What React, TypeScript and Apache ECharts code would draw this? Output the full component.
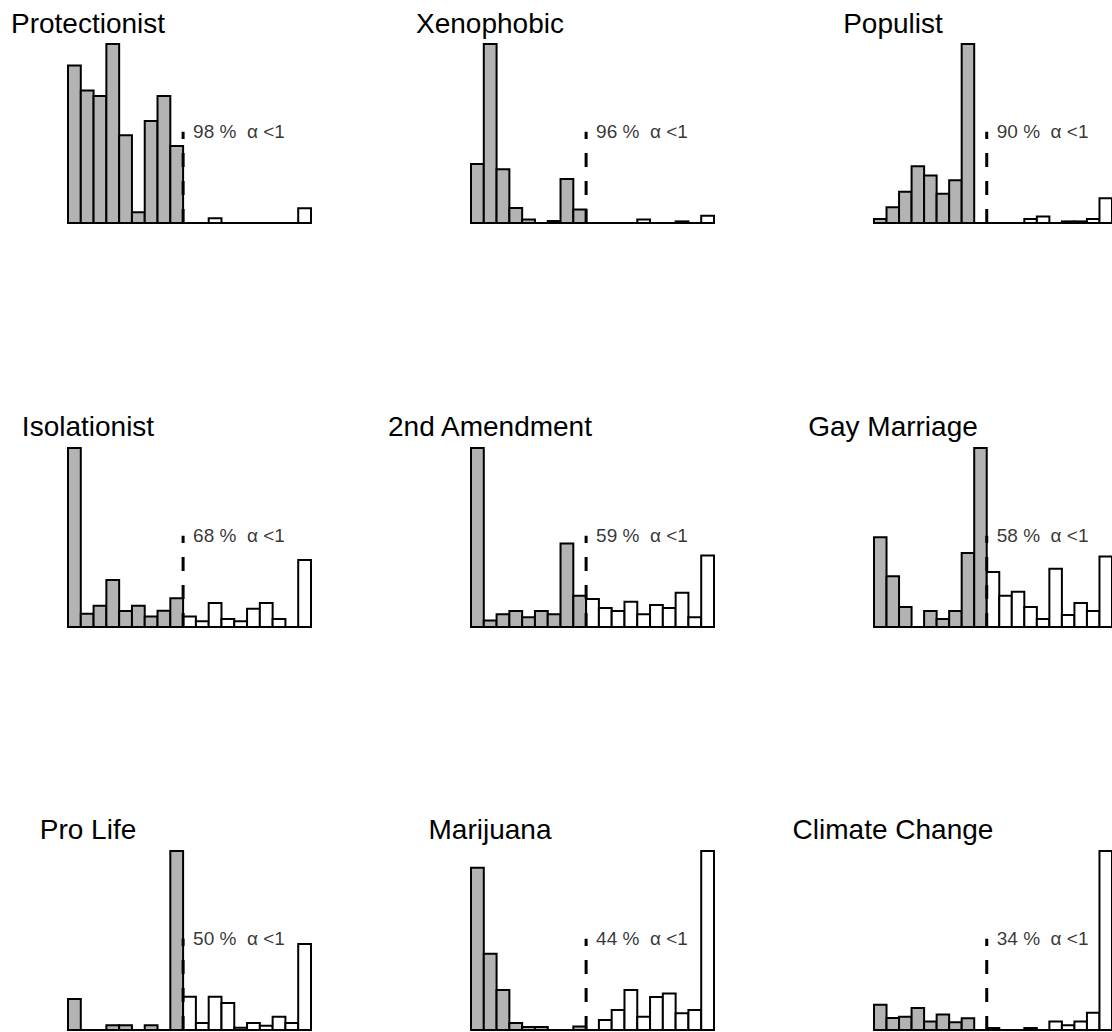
import React, { useEffect, useRef } from "react";
import * as echarts from "echarts";

// Panel titles and the share of draws with alpha below 1
const titles = [
  "Protectionist",
  "Xenophobic",
  "Populist",
  "Isolationist",
  "2nd Amendment",
  "Gay Marriage",
  "Pro Life",
  "Marijuana",
  "Climate Change",
];
const shares = [98, 96, 90, 68, 59, 58, 50, 44, 34];

// Histogram heights, 19 bins each (first 9 bins lie below alpha = 1)
const protectionist = [88, 74, 71, 100, 49, 6, 57, 71, 43, 0, 0, 2.6, 0, 0, 0, 0, 0, 0, 8.2];
const xenophobic = [33, 100, 30, 8.4, 1.9, 0, 1.1, 24.6, 7.5, 0, 0, 0, 0, 1.9, 0, 0, 0.9, 0, 4.1];
const populist = [2.2, 8.8, 17.5, 31.7, 26.5, 16.4, 23.9, 100, 0, 0, 0, 0, 2.2, 3.7, 0, 0.9, 0.9, 2.2, 13.8];
const isolationist = [100, 7.4, 11.9, 26.2, 8.9, 11.9, 5.8, 9.1, 16, 5.8, 3.2, 13.4, 4.5, 3.2, 10.2, 13.4, 4.5, 0, 37.5];
const secondAmendment = [100, 3.7, 7.1, 8.9, 5.4, 8.9, 7.1, 46.7, 17.5, 15.6, 10.6, 8.9, 14.1, 7.1, 12.3, 10.6, 19.1, 5.4, 40];
const gayMarriage = [50.2, 28.4, 11.2, 0, 8.9, 4.5, 8.9, 41.4, 100, 30.7, 17.5, 19.7, 11.2, 4.5, 32.5, 6.7, 13.4, 8.9, 39.4];
const proLife = [17.3, 0, 0, 2.6, 2.6, 0, 2.6, 0, 100, 18.6, 3.9, 18.6, 15.1, 1.3, 3.9, 2.4, 7.4, 3.9, 48.1];
const marijuana = [90.7, 42.6, 22.3, 3.9, 1.7, 1.7, 0, 0, 1.9, 0, 5.6, 11.2, 22.3, 7.4, 18.4, 20.4, 9.3, 11.2, 100];
const climateChange = [14.1, 6.7, 7.4, 12.3, 4.8, 8.6, 4.3, 6.5, 0, 1.1, 0, 0, 1.1, 0, 4.8, 2.6, 4.8, 9.7, 100];

const panels = [
  protectionist,
  xenophobic,
  populist,
  isolationist,
  secondAmendment,
  gayMarriage,
  proLife,
  marijuana,
  climateChange,
];

const CUT_BIN = 9; // bin edge at alpha = 1
const N_BINS = 19;
const GRAY = "#b3b3b3";
const FONT = '"Liberation Sans", Arial, Helvetica, sans-serif';

// Layout of the 3 x 3 grid
const colLeft = [68, 471, 874];
const rowTop = [44, 448, 851];
const PLOT_W = 243;
const PLOT_H = 179;
const titleX = [88, 490, 893];
const titleY = [23, 426, 829];

function buildOption() {
  const grid: any[] = [];
  const xAxis: any[] = [];
  const yAxis: any[] = [];
  const series: any[] = [];
  const graphic: any[] = [];

  panels.forEach((vals, k) => {
    const col = k % 3;
    const row = Math.floor(k / 3);
    const yMax = Math.max(...vals);
    const markTop = yMax * 0.51;

    grid.push({
      left: colLeft[col],
      top: rowTop[row],
      width: PLOT_W,
      height: PLOT_H,
      containLabel: false,
    });
    xAxis.push({
      type: "value",
      gridIndex: k,
      min: 0,
      max: N_BINS,
      axisLine: { show: true, onZero: false, lineStyle: { color: "#000", width: 2 } },
      axisTick: { show: false },
      axisLabel: { show: false },
      splitLine: { show: false },
    });
    yAxis.push({
      type: "value",
      gridIndex: k,
      min: 0,
      max: yMax,
      show: false,
      splitLine: { show: false },
    });

    series.push({
      type: "custom",
      xAxisIndex: k,
      yAxisIndex: k,
      silent: true,
      clip: false,
      data: vals.map((v, i) => [i, v]),
      renderItem: (_params: any, api: any) => {
        const i = api.value(0);
        const v = api.value(1);
        if (!(v > 0)) return null;
        const p0 = api.coord([i, 0]);
        const p1 = api.coord([i + 1, v]);
        return {
          type: "rect",
          shape: { x: p0[0], y: p1[1], width: p1[0] - p0[0], height: p0[1] - p1[1] },
          style: { fill: i < CUT_BIN ? GRAY : "#ffffff", stroke: "#000", lineWidth: 2 },
        };
      },
      z: 2,
    });

    series.push({
      type: "line",
      xAxisIndex: k,
      yAxisIndex: k,
      silent: true,
      symbol: "none",
      data: [
        [CUT_BIN, 0],
        [CUT_BIN, markTop],
      ],
      lineStyle: { color: "#000", width: 3, type: [14, 14], cap: "butt" },
      z: 4,
    });

    series.push({
      type: "scatter",
      xAxisIndex: k,
      yAxisIndex: k,
      silent: true,
      symbolSize: 0,
      itemStyle: { color: "transparent" },
      data: [[CUT_BIN, markTop]],
      label: {
        show: true,
        position: "right",
        distance: 10,
        color: "#000",
        fontSize: 19,
        fontFamily: FONT,
        formatter: () => `${shares[k]} %\u00a0 α <1`,
      },
      z: 5,
    });

    graphic.push({
      type: "text",
      x: titleX[col],
      y: titleY[row],
      silent: true,
      style: {
        text: titles[k],
        font: `28px ${FONT}`,
        fill: "#000",
        textAlign: "center",
        textVerticalAlign: "middle",
      },
    });
  });

  return {
    animation: false,
    backgroundColor: "#ffffff",
    grid,
    xAxis,
    yAxis,
    series,
    graphic,
  };
}

export default function App() {
  const ref = useRef<HTMLDivElement>(null);

  useEffect(() => {
    if (!ref.current) return;
    const chart = echarts.init(ref.current, undefined, { renderer: "svg" });
    chart.setOption(buildOption());
    return () => chart.dispose();
  }, []);

  return (
    <div
      ref={ref}
      style={{
        position: "absolute",
        left: 0,
        top: 0,
        width: 1112,
        height: 1032,
        overflow: "hidden",
        background: "#fff",
      }}
    />
  );
}
